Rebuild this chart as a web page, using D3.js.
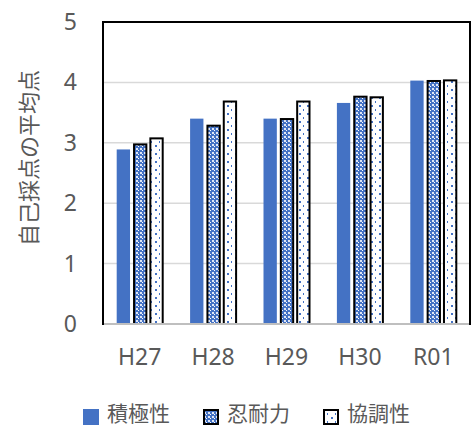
<!DOCTYPE html>
<html>
<head>
<meta charset="utf-8">
<script src="https://cdn.jsdelivr.net/npm/d3@7"></script>
<style>
  html, body { margin: 0; padding: 0; background: #fff; }
  svg { display: block; }
  text { fill: #595959; }
</style>
</head>
<body>
<svg id="chart" width="472" height="427"></svg>
<script>
// Survey years and the three self-rated attributes
const categories = ["H27", "H28", "H29", "H30", "R01"];
const seriesNames = ["積極性", "忍耐力", "協調性"];
const sekkyokusei = [2.89, 3.40, 3.40, 3.66, 4.03];
const nintairyoku = [2.99, 3.30, 3.41, 3.78, 4.04];
const kyouchousei = [3.09, 3.70, 3.70, 3.77, 4.05];
const yTicks = [0, 1, 2, 3, 4, 5];
const yTitle = "自己採点の平均点";

const seriesValues = [sekkyokusei, nintairyoku, kyouchousei];
const fills = ["#4472C4", "url(#checker)", "url(#dots)"];
const strokes = [null, "#000", "#000"];

const svg = d3.select("#chart");
const plot = { left: 103, right: 470, top: 22, bottom: 324 };
const numFont = "'Noto Sans', 'Open Sans', sans-serif";
const cjkFont = "'Noto Sans CJK JP', sans-serif";

// Fill patterns
const defs = svg.append("defs");
const checker = defs.append("pattern")
  .attr("id", "checker").attr("patternUnits", "userSpaceOnUse")
  .attr("width", 4).attr("height", 4);
checker.append("rect").attr("width", 4).attr("height", 4).attr("fill", "#4472C4");
checker.append("rect").attr("x", 0).attr("y", 0).attr("width", 2).attr("height", 2).attr("fill", "#dfe6f5");
checker.append("rect").attr("x", 2).attr("y", 2).attr("width", 1).attr("height", 1).attr("fill", "#fff");

const dots = defs.append("pattern")
  .attr("id", "dots").attr("patternUnits", "userSpaceOnUse")
  .attr("width", 8).attr("height", 8);
dots.append("rect").attr("width", 8).attr("height", 8).attr("fill", "#fff");
dots.append("rect").attr("x", 3).attr("y", 1).attr("width", 2).attr("height", 2).attr("fill", "#4472C4");
dots.append("rect").attr("x", 7).attr("y", 5).attr("width", 2).attr("height", 2).attr("fill", "#4472C4");

// Scales
const x0 = d3.scaleBand().domain(categories).range([plot.left, plot.right]).paddingInner(0).paddingOuter(0);
const x1 = d3.scaleBand().domain(seriesNames).range([-23, 23]).paddingInner(0.184).paddingOuter(0);
const y = d3.scaleLinear().domain([0, 5]).range([plot.bottom, plot.top]);

// Gridlines
svg.append("g").selectAll("line").data(yTicks.slice(1, -1)).join("line")
  .attr("x1", plot.left).attr("x2", plot.right)
  .attr("y1", d => y(d)).attr("y2", d => y(d))
  .attr("stroke", "#d9d9d9").attr("stroke-width", 1.5);

// Bars
categories.forEach((cat, ci) => {
  const cx = x0(cat) + x0.bandwidth() / 2;
  seriesNames.forEach((s, si) => {
    const v = seriesValues[si][ci];
    const r = svg.append("rect")
      .attr("fill", fills[si]);
    if (strokes[si]) {
      r.attr("x", cx + x1(s) + 1)
       .attr("width", x1.bandwidth() - 1)
       .attr("y", y(v) + 1)
       .attr("height", y(0) - y(v) - 1)
       .attr("stroke", strokes[si]).attr("stroke-width", 2);
    } else {
      r.attr("x", cx + x1(s))
       .attr("width", x1.bandwidth())
       .attr("y", y(v))
       .attr("height", y(0) - y(v));
    }
  });
});

// Plot frame
svg.append("rect")
  .attr("x", plot.left).attr("y", plot.top)
  .attr("width", plot.right - plot.left).attr("height", plot.bottom - plot.top)
  .attr("fill", "none").attr("stroke", "#000").attr("stroke-width", 2);
svg.append("line")
  .attr("x1", plot.left + 1).attr("x2", plot.right - 1)
  .attr("y1", plot.bottom).attr("y2", plot.bottom)
  .attr("stroke", "#bfbfbf").attr("stroke-width", 2);

// Y axis labels
svg.append("g").selectAll("text").data(yTicks).join("text")
  .attr("x", 77).attr("y", d => y(d) - 1)
  .attr("text-anchor", "end").attr("dominant-baseline", "central")
  .style("font-family", numFont)
  .style("font-size", "23px")
  .text(d => d);

// X axis labels
svg.append("g").selectAll("text").data(categories).join("text")
  .attr("x", d => x0(d) + x0.bandwidth() / 2).attr("y", 356)
  .attr("text-anchor", "middle").attr("dominant-baseline", "central")
  .style("font-family", numFont)
  .style("font-size", "23px")
  .text(d => d);

// Y axis title
svg.append("text")
  .attr("transform", "translate(27,158) rotate(-90)")
  .attr("text-anchor", "middle").attr("dominant-baseline", "central")
  .style("font-family", cjkFont)
  .style("font-size", "22px")
  .text(yTitle);

// Legend
const legendX = [83, 203, 323];
const legend = svg.append("g");
seriesNames.forEach((s, i) => {
  if (strokes[i]) {
    legend.append("rect").attr("x", legendX[i] + 1).attr("y", 410)
      .attr("width", 14).attr("height", 14)
      .attr("fill", fills[i]).attr("stroke", "#000").attr("stroke-width", 2);
  } else {
    legend.append("rect").attr("x", legendX[i]).attr("y", 409)
      .attr("width", 16).attr("height", 16).attr("fill", fills[i]);
  }
  legend.append("text")
    .attr("x", legendX[i] + 24).attr("y", 411.5)
    .attr("dominant-baseline", "central")
    .style("font-family", cjkFont)
    .style("font-size", "21px")
    .text(s);
});
</script>
</body>
</html>
